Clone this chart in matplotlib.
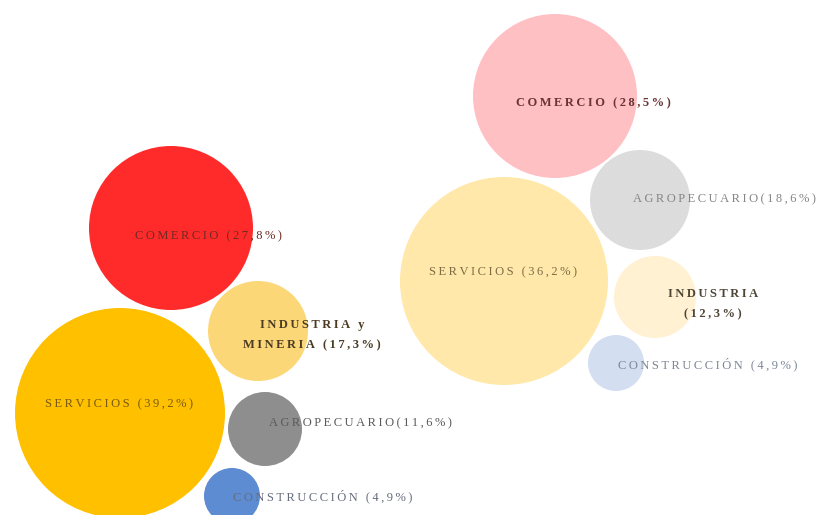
import matplotlib
matplotlib.use("Agg")
import matplotlib.pyplot as plt
from matplotlib.patches import Circle

# ---- data (left group) ----
left_sectors = ["COMERCIO", "SERVICIOS", "INDUSTRIA y\nMINERIA", "AGROPECUARIO", "CONSTRUCCIÓN"]
left_values = [27.8, 39.2, 17.3, 11.6, 4.9]
left_x = [171, 120, 258, 265, 232]
left_y = [228, 413, 331, 429, 496]
left_size = [82, 105, 50, 37, 28]
left_colors = ["#FF2B2B", "#FFC000", "#FBD777", "#8E8E8E", "#5E8CD2"]

# ---- data (right group) ----
right_sectors = ["COMERCIO", "AGROPECUARIO", "SERVICIOS", "INDUSTRIA\n", "CONSTRUCCIÓN"]
right_values = [28.5, 18.6, 36.2, 12.3, 4.9]
right_x = [555, 640, 504, 655, 616]
right_y = [96, 200, 281, 297, 363]
right_size = [82, 50, 104, 41, 28]
right_colors = ["#FFC0C4", "#DCDCDC", "#FFE8AA", "#FFF1D2", "#D3DEF1"]

# label styling/placement
left_lab_x = [208, 119, 312, 360, 323]
left_lab_y = [236, 404, 335, 423, 496]
left_lab_col = ["#6E2A24", "#7A5A10", "#4A3A22", "#5A5A5A", "#666C7C"]
left_sep = [" ", " ", " ", "", " "]
right_lab_x = [593, 724, 503, 713, 708]
right_lab_y = [103, 199, 272, 304, 364]
right_lab_col = ["#6A3434", "#858585", "#7E6C44", "#4E4536", "#7C8698"]
right_sep = [" ", "", " ", "", " "]
right_bold = [True, False, False, True, False]
left_bold = [False, False, True, False, False]


def spaced(s):
    hs = "\u2009"
    return "\n".join(hs.join(list(line)) for line in s.split("\n"))


def fmt(v):
    return f"({v:.1f}%)".replace(".", ",")


fig = plt.figure(figsize=(8.19, 5.15), dpi=100)
ax = fig.add_axes([0, 0, 1, 1])
ax.set_xlim(0, 819)
ax.set_ylim(515, 0)
ax.set_aspect("equal")
ax.axis("off")

for xs, ys, rs, cs in [(left_x, left_y, left_size, left_colors),
                       (right_x, right_y, right_size, right_colors)]:
    for x, y, r, c in zip(xs, ys, rs, cs):
        ax.add_patch(Circle((x, y), r, facecolor=c, edgecolor="none", zorder=1))

for names, vals, lx, ly, cols, seps, bolds in [
        (left_sectors, left_values, left_lab_x, left_lab_y, left_lab_col, left_sep, left_bold),
        (right_sectors, right_values, right_lab_x, right_lab_y, right_lab_col, right_sep, right_bold)]:
    for n, v, x, y, c, s, b in zip(names, vals, lx, ly, cols, seps, bolds):
        txt = spaced(n + s + fmt(v))
        ax.text(x, y, txt, ha="center", va="center", color=c,
                fontsize=9, family=["Liberation Serif", "DejaVu Serif"],
                fontweight="bold" if b else "normal",
                linespacing=1.85, zorder=3)

fig.savefig("out.png", dpi=100)
